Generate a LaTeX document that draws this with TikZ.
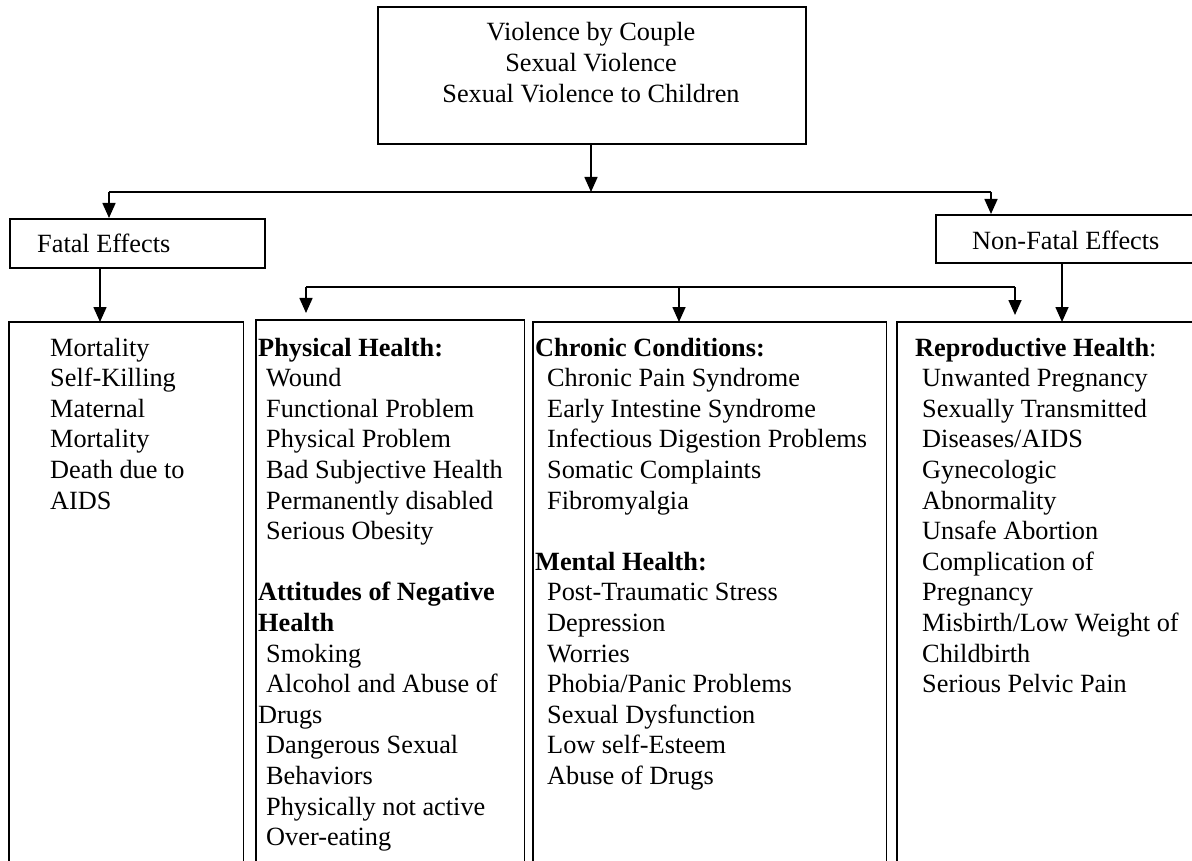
\documentclass[tikz,border=0pt]{standalone}
\usepackage{fontspec}
\setmainfont{Liberation Serif}
\usetikzlibrary{arrows.meta}
\begin{document}
\begin{tikzpicture}[x=1pt,y=-1pt,
  ln/.style={line width=1.6pt},
  arr/.style={ln,-{Triangle[length=15pt,width=13pt]}},
  box/.style={draw,ln,inner sep=0pt,anchor=north west},
  area/.style={inner sep=0pt,anchor=north west},
  txt/.style={anchor=base west,inner sep=0pt,font=\fontsize{26.3}{30.6}\selectfont},
  ctxt/.style={txt,anchor=base}]
\useasboundingbox (0,0) rectangle (1192,861);
\clip (0,0) rectangle (1192,861);
\fill[white] (0,0) rectangle (1192,861);

% top box
\node[box,minimum width=428pt,minimum height=137pt] (top) at (377,6) {};
\node[ctxt] (t1) at (591,41) {Violence by Couple};
\node[ctxt] (t2) at (591,71.6) {Sexual Violence};
\node[ctxt] (t3) at (591,102.2) {Sexual Violence to Children};

% level 2 boxes
\node[box,minimum width=255pt,minimum height=49pt] (fatal) at (9,218) {};
\node[txt] (fatalt) at (37,253) {Fatal Effects};
\node[box,minimum width=270pt,minimum height=48pt] (nonfatal) at (935,214) {};
\node[txt] (nonfatalt) at (972,250) {Non-Fatal Effects};

% bottom boxes (open at the bottom)
\node[area,minimum width=234pt,minimum height=560pt] (b1) at (9,322) {};
\node[area,minimum width=268pt,minimum height=560pt] (b2) at (256,320) {};
\node[area,minimum width=353pt,minimum height=560pt] (b3) at (533,322) {};
\node[area,minimum width=320pt,minimum height=560pt] (b4) at (897,322) {};
\foreach \b in {b1,b2,b3,b4}
  \draw[ln] (\b.south west) -- (\b.north west) -- (\b.north east) -- (\b.south east);

% connectors
\coordinate (j0) at (591,192);
\coordinate (jL) at (109,192);
\coordinate (jR) at (991,192);
\draw[arr] (top.south -| j0) -- (j0);
\draw[ln] (jL) -- (jR);
\draw[arr] (jL) -- (jL |- fatal.north);
\draw[arr] (jR) -- (jR |- nonfatal.north);
\coordinate (fa) at (100,0);
\draw[arr] (fatal.south -| fa) -- (b1.north -| fa);
\coordinate (na) at (1062,0);
\draw[arr] (nonfatal.south -| na) -- (b4.north -| na);
\coordinate (k1) at (306,287);
\coordinate (k2) at (679,287);
\coordinate (k3) at (1015,287);
\draw[ln] (k1) -- (k3);
\draw[arr,shorten >=7pt] (k1) -- (k1 |- b2.north);
\draw[arr] (k2) -- (k2 |- b3.north);
\draw[arr,shorten >=7pt] (k3) -- (k3 |- b4.north);

% box 1 text
\foreach \l/\t in {1/Mortality,2/Self-Killing,3/Maternal,4/Mortality,5/{Death due to},6/AIDS}
  \node[txt] (m\l) at (50,325.4+30.6*\l) {\t};

% box 2 text
\foreach \x/\l/\t in {258/1/{\textbf{Physical Health:}},266/2/Wound,266/3/{Functional Problem},
  266/4/{Physical Problem},266/5/{Bad Subjective Health},266/6/{Permanently disabled},
  266/7/{Serious Obesity},258/9/{\textbf{Attitudes of Negative}},258/10/{\textbf{Health}},
  266/11/Smoking,266/12/{Alcohol and Abuse of},258/13/Drugs,266/14/{Dangerous Sexual},
  266/15/Behaviors,266/16/{Physically not active},266/17/{Over-eating}}
  \node[txt] (p\l) at (\x,325.4+30.6*\l) {\t};

% box 3 text
\foreach \x/\l/\t in {535/1/{\textbf{Chronic Conditions:}},547/2/{Chronic Pain Syndrome},
  547/3/{Early Intestine Syndrome},547/4/{Infectious Digestion Problems},
  547/5/{Somatic Complaints},547/6/Fibromyalgia,535/8/{\textbf{Mental Health:}},
  547/9/{Post-Traumatic Stress},547/10/Depression,547/11/Worries,
  547/12/{Phobia/Panic Problems},547/13/{Sexual Dysfunction},547/14/{Low self-Esteem},
  547/15/{Abuse of Drugs}}
  \node[txt] (c\l) at (\x,325.4+30.6*\l) {\t};

% box 4 text
\foreach \x/\l/\t in {915/1/{\textbf{Reproductive Health}:},922/2/{Unwanted Pregnancy},
  922/3/{Sexually Transmitted},922/4/{Diseases/AIDS},922/5/Gynecologic,922/6/Abnormality,
  922/7/{Unsafe Abortion},922/8/{Complication of},922/9/Pregnancy,
  922/10/{Misbirth/Low Weight of},922/11/Childbirth,922/12/{Serious Pelvic Pain}}
  \node[txt] (r\l) at (\x,325.4+30.6*\l) {\t};
\end{tikzpicture}
\end{document}
